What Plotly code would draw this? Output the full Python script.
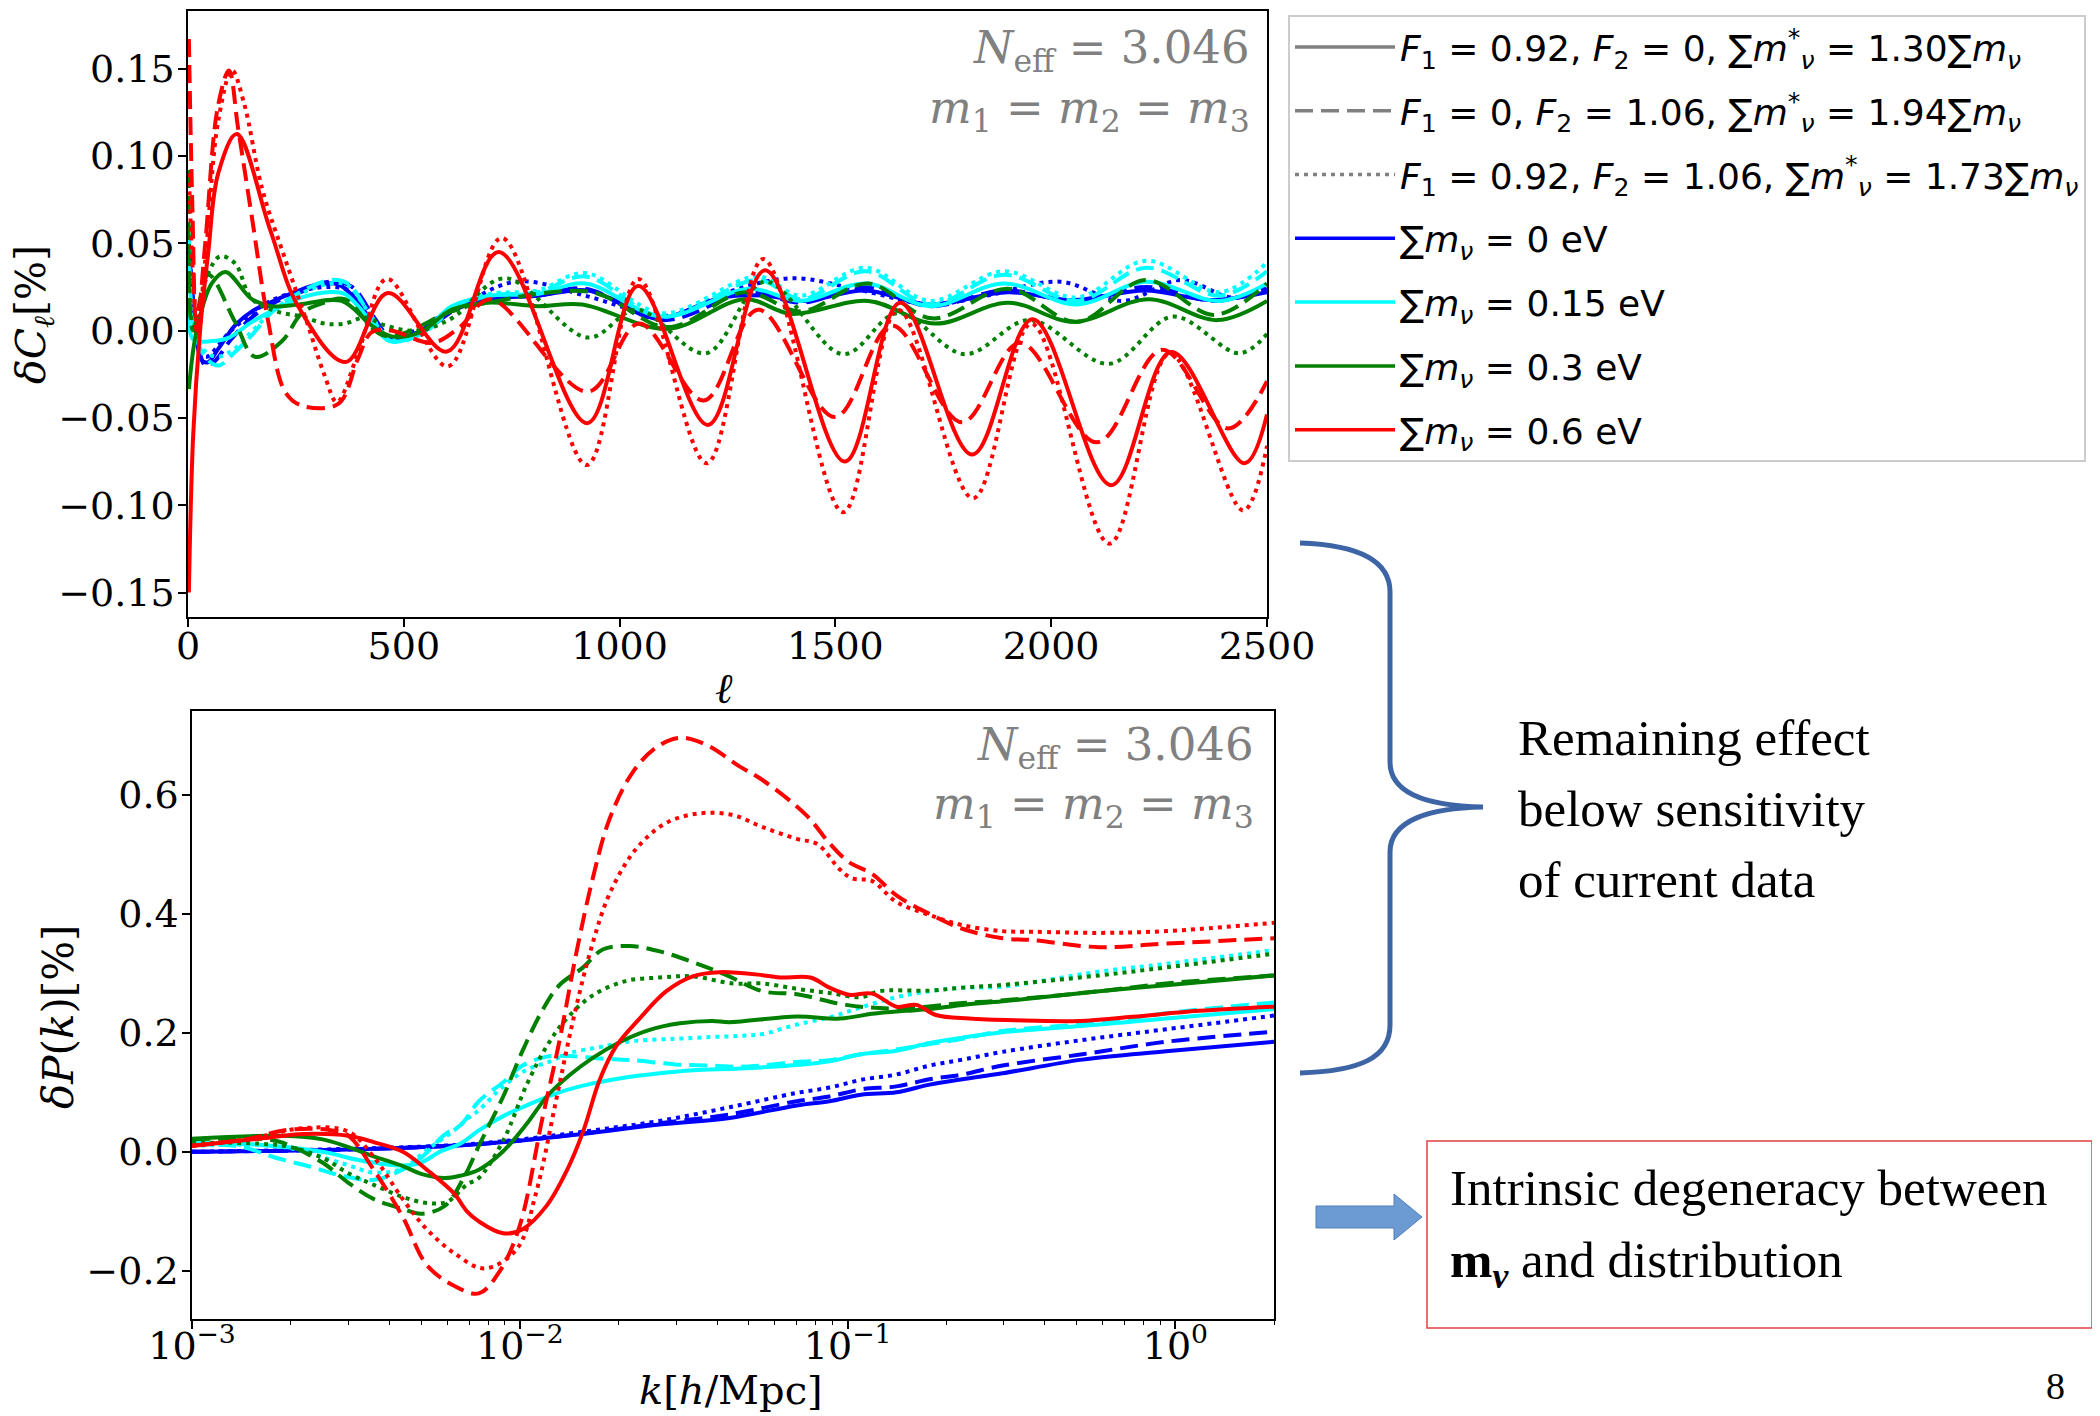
import plotly.graph_objects as go

# ---------------- top panel: delta C_ell [%] vs ell ----------------
ell_b_s = [2, 15, 32, 47, 70, 109, 148, 194, 247, 302, 348, 387, 441, 472, 533, 611, 695, 811, 927, 1040, 1090, 1238, 1337, 1430, 1569, 1715, 1900, 2050, 2218, 2370, 2500]
dcl_b_s = [0.048, 0.01, -0.017, -0.018, -0.0105, 0.003, 0.011, 0.0165, 0.022, 0.0265, 0.0265, 0.0185, 0.0006, -0.004, -0.001, 0.012, 0.018, 0.02, 0.023, 0.011, 0.0066, 0.019, 0.02, 0.017, 0.023, 0.015, 0.022, 0.0175, 0.023, 0.0175, 0.022]
ell_b_d = [2, 15, 40, 60, 100, 150, 200, 260, 330, 380, 430, 470, 540, 620, 700, 810, 920, 1100, 1300, 1420, 1570, 1720, 1890, 2060, 2220, 2380, 2500]
dcl_b_d = [0.05, 0.01, -0.02, -0.018, -0.005, 0.008, 0.016, 0.022, 0.028, 0.025, 0.008, -0.004, -0.001, 0.012, 0.019, 0.02, 0.024, 0.006, 0.022, 0.016, 0.025, 0.014, 0.023, 0.017, 0.025, 0.017, 0.024]
ell_b_o = [2, 15, 40, 100, 200, 330, 380, 430, 470, 600, 760, 920, 1060, 1130, 1250, 1400, 1560, 1720, 1850, 2020, 2165, 2300, 2420, 2500]
dcl_b_o = [0.045, 0.01, -0.015, 0.0, 0.018, 0.025, 0.022, 0.006, -0.004, 0.01, 0.028, 0.02, 0.01, 0.009, 0.022, 0.03, 0.023, 0.015, 0.02, 0.028, 0.017, 0.029, 0.019, 0.025]

ell_c_s = [2, 12, 55, 95, 148, 209, 264, 325, 363, 425, 467, 537, 611, 700, 810, 920, 1100, 1300, 1420, 1570, 1720, 1890, 2060, 2220, 2390, 2500]
dcl_c_s = [0.016, -0.005, -0.006, -0.004, 0.005, 0.013, 0.019, 0.022, 0.021, 0.005, -0.006, -0.002, 0.014, 0.02, 0.021, 0.027, 0.008, 0.024, 0.017, 0.027, 0.014, 0.027, 0.015, 0.028, 0.017, 0.027]
ell_c_d = [2, 15, 40, 70, 110, 150, 200, 260, 330, 370, 420, 470, 540, 620, 700, 810, 920, 1100, 1320, 1420, 1570, 1720, 1890, 2060, 2220, 2390, 2500]
dcl_c_d = [0.055, 0.0, -0.015, -0.02, -0.012, -0.002, 0.012, 0.022, 0.029, 0.027, 0.01, -0.006, -0.002, 0.013, 0.02, 0.022, 0.031, 0.008, 0.029, 0.018, 0.034, 0.015, 0.032, 0.017, 0.036, 0.02, 0.034]
ell_c_o = [2, 15, 40, 70, 110, 150, 200, 260, 330, 370, 420, 470, 540, 620, 700, 810, 920, 1100, 1320, 1420, 1570, 1720, 1890, 2060, 2220, 2390, 2500]
dcl_c_o = [0.06, 0.0, -0.012, -0.015, -0.01, 0.0, 0.012, 0.021, 0.027, 0.026, 0.01, -0.005, -0.001, 0.014, 0.021, 0.023, 0.033, 0.01, 0.031, 0.02, 0.036, 0.017, 0.034, 0.019, 0.04, 0.022, 0.039]

ell_g_s = [2, 20, 55, 87, 148, 194, 258, 356, 425, 472, 537, 611, 695, 811, 913, 1112, 1290, 1398, 1576, 1731, 1900, 2052, 2226, 2385, 2500]
dcl_g_s = [-0.0335, 0.0, 0.027, 0.0336, 0.018, 0.014, 0.015, 0.017, 0.003, -0.0033, -0.001, 0.012, 0.016, 0.014, 0.015, 0.001, 0.018, 0.0096, 0.017, 0.004, 0.016, 0.005, 0.018, 0.006, 0.017]
ell_g_d = [2, 12, 47, 109, 155, 218, 264, 316, 363, 456, 611, 695, 936, 1112, 1290, 1420, 1576, 1724, 1900, 2060, 2218, 2378, 2500]
dcl_g_d = [0.092, 0.0, 0.032, 0.005, -0.015, -0.006, 0.01, 0.016, 0.018, -0.003, 0.011, 0.016, 0.022, 0.002, 0.022, 0.011, 0.027, 0.007, 0.024, 0.005, 0.029, 0.009, 0.027]
ell_g_o = [2, 12, 47, 74, 109, 148, 209, 264, 317, 363, 410, 456, 533, 611, 734, 927, 1040, 1200, 1337, 1518, 1645, 1800, 1950, 2134, 2282, 2436, 2500]
dcl_g_o = [0.06, 0.003, 0.033, 0.0425, 0.0385, 0.018, 0.0107, 0.008, 0.004, 0.004, 0.0075, 0.003, 0.0, 0.007, 0.03, -0.004, 0.012, -0.013, 0.028, -0.0135, 0.01, -0.0135, 0.006, -0.019, 0.008, -0.013, -0.002]

ell_r_s = [2, 12, 28, 47, 70, 113, 190, 255, 365, 463, 600, 720, 925, 1043, 1205, 1337, 1522, 1650, 1817, 1957, 2139, 2278, 2448, 2500]
dcl_r_s = [-0.15, -0.06, 0.0, 0.045, 0.09, 0.1125, 0.058, 0.014, -0.018, 0.0215, -0.012, 0.045, -0.053, 0.0255, -0.054, 0.0345, -0.075, 0.016, -0.071, 0.0065, -0.0885, -0.0123, -0.076, -0.048]
ell_r_d = [2, 10, 20, 40, 69, 95, 116, 148, 186, 225, 264, 348, 394, 425, 470, 566, 630, 700, 927, 1045, 1195, 1321, 1499, 1631, 1793, 1928, 2106, 2257, 2410, 2500]
dcl_r_d = [0.167, 0.072, 0.0, 0.05, 0.128, 0.149, 0.116, 0.065, 0.005, -0.035, -0.043, -0.042, -0.016, -0.001, 0.0, -0.007, 0.002, 0.018, -0.035, 0.004, -0.04, 0.012, -0.0495, 0.003, -0.0525, -0.007, -0.064, -0.011, -0.056, -0.029]
ell_r_o = [2, 12, 22, 40, 70, 102, 130, 172, 225, 278, 317, 345, 394, 461, 602, 727, 924, 1043, 1202, 1333, 1518, 1645, 1819, 1954, 2135, 2275, 2445, 2500]
dcl_r_o = [0.09, 0.03, 0.0, 0.04, 0.12, 0.149, 0.13, 0.081, 0.041, 0.003, -0.026, -0.041, -0.013, 0.0296, -0.0205, 0.053, -0.077, 0.0296, -0.076, 0.041, -0.104, 0.012, -0.096, 0.004, -0.122, -0.013, -0.103, -0.066]

# ---------------- bottom panel: delta P(k) [%] vs k ----------------
k_b = [0.001, 0.003, 0.0066, 0.0105, 0.0167, 0.0267, 0.0437, 0.07, 0.088, 0.11, 0.141, 0.178, 0.224, 0.297, 0.52, 0.937, 2.0]
dpk_b_s = [0.0, 0.004, 0.011, 0.02, 0.032, 0.046, 0.057, 0.078, 0.085, 0.096, 0.1, 0.113, 0.122, 0.132, 0.155, 0.169, 0.185]
dpk_b_d = [0.0, 0.004, 0.011, 0.02, 0.033, 0.048, 0.063, 0.085, 0.093, 0.105, 0.11, 0.122, 0.13, 0.145, 0.164, 0.185, 0.202]
dpk_b_o = [0.0, 0.005, 0.012, 0.022, 0.036, 0.052, 0.075, 0.099, 0.108, 0.121, 0.13, 0.145, 0.155, 0.168, 0.188, 0.206, 0.229]

k_c_s = [0.001, 0.0016, 0.0025, 0.0033, 0.0044, 0.005, 0.0057, 0.0066, 0.0075, 0.0089, 0.0105, 0.0132, 0.0167, 0.021, 0.0267, 0.0337, 0.047, 0.07, 0.088, 0.11, 0.141, 0.178, 0.224, 0.297, 0.586, 0.937, 2.0]
dpk_c_s = [0.015, 0.012, 0.0, -0.015, -0.023, -0.018, 0.0, 0.014, 0.036, 0.06, 0.078, 0.1, 0.115, 0.125, 0.132, 0.137, 0.14, 0.146, 0.152, 0.164, 0.17, 0.183, 0.192, 0.201, 0.214, 0.224, 0.24]
k_c_d = [0.001, 0.0014, 0.0018, 0.0023, 0.0029, 0.0036, 0.0042, 0.005, 0.0059, 0.0066, 0.0075, 0.0089, 0.0102, 0.0121, 0.0142, 0.0175, 0.0221, 0.0298, 0.0386, 0.047, 0.055, 0.07, 0.088, 0.11, 0.141, 0.178, 0.224, 0.297, 0.586, 0.937, 2.0]
dpk_c_d = [0.012, 0.009, -0.01, -0.025, -0.041, -0.047, -0.035, -0.01, 0.029, 0.045, 0.085, 0.117, 0.145, 0.16, 0.161, 0.157, 0.154, 0.147, 0.145, 0.143, 0.145, 0.151, 0.154, 0.164, 0.172, 0.181, 0.19, 0.203, 0.217, 0.233, 0.251]
k_c_o = [0.001, 0.0019, 0.0029, 0.0036, 0.0044, 0.0052, 0.0063, 0.0069, 0.0075, 0.0089, 0.0105, 0.0124, 0.0142, 0.0175, 0.0221, 0.0298, 0.0386, 0.047, 0.055, 0.07, 0.088, 0.11, 0.141, 0.178, 0.224, 0.29, 0.586, 0.937, 2.0]
dpk_c_o = [0.01, 0.008, -0.02, -0.035, -0.028, 0.003, 0.036, 0.055, 0.07, 0.11, 0.138, 0.152, 0.166, 0.176, 0.186, 0.19, 0.193, 0.195, 0.198, 0.214, 0.226, 0.243, 0.26, 0.27, 0.276, 0.277, 0.303, 0.316, 0.339]

k_g_s = [0.001, 0.0019, 0.0025, 0.003, 0.0036, 0.0044, 0.005, 0.0059, 0.0066, 0.0075, 0.0089, 0.0105, 0.0121, 0.0142, 0.0167, 0.0203, 0.0249, 0.0308, 0.0386, 0.0437, 0.07, 0.095, 0.119, 0.15, 0.178, 0.224, 0.297, 0.586, 0.937, 2.0]
dpk_g_s = [0.022, 0.027, 0.021, 0.008, -0.008, -0.024, -0.037, -0.044, -0.04, -0.03, 0.001, 0.047, 0.093, 0.129, 0.158, 0.185, 0.205, 0.216, 0.22, 0.218, 0.2275, 0.224, 0.232, 0.237, 0.24, 0.247, 0.253, 0.27, 0.28, 0.2965]
k_g_d = [0.001, 0.0017, 0.0019, 0.0025, 0.003, 0.0036, 0.0044, 0.005, 0.0059, 0.0068, 0.0075, 0.0089, 0.0102, 0.0117, 0.0132, 0.0156, 0.0179, 0.0216, 0.0267, 0.0337, 0.0427, 0.055, 0.07, 0.099, 0.141, 0.224, 0.29, 0.586, 0.937, 2.0]
dpk_g_d = [0.021, 0.021, 0.015, -0.018, -0.052, -0.08, -0.096, -0.104, -0.091, -0.04, 0.01, 0.093, 0.17, 0.237, 0.28, 0.31, 0.34, 0.346, 0.337, 0.319, 0.297, 0.27, 0.265, 0.247, 0.241, 0.25, 0.254, 0.27, 0.283, 0.2965]
k_g_o = [0.001, 0.0019, 0.0025, 0.003, 0.0036, 0.0044, 0.0052, 0.006, 0.0069, 0.0075, 0.0089, 0.0105, 0.0121, 0.0139, 0.0167, 0.021, 0.0267, 0.0337, 0.0447, 0.055, 0.07, 0.088, 0.11, 0.125, 0.178, 0.224, 0.29, 0.586, 0.937, 2.0]
dpk_g_o = [0.015, 0.01, -0.01, -0.036, -0.056, -0.076, -0.086, -0.084, -0.055, -0.044, 0.019, 0.113, 0.178, 0.224, 0.263, 0.287, 0.293, 0.295, 0.283, 0.283, 0.274, 0.267, 0.26, 0.27, 0.271, 0.276, 0.28, 0.2965, 0.31, 0.333]

k_r_s = [0.001, 0.0016, 0.0022, 0.003, 0.0036, 0.0044, 0.0052, 0.0063, 0.0069, 0.0075, 0.0089, 0.0102, 0.0121, 0.0139, 0.0156, 0.0175, 0.0197, 0.0232, 0.028, 0.0337, 0.0407, 0.055, 0.0621, 0.077, 0.088, 0.101, 0.119, 0.141, 0.162, 0.186, 0.235, 0.326, 0.51, 0.74, 1.18, 2.0]
dpk_r_s = [0.01, 0.022, 0.03, 0.027, 0.016, 0.0, -0.03, -0.07, -0.1, -0.117, -0.137, -0.13, -0.09, -0.032, 0.034, 0.12, 0.178, 0.224, 0.27, 0.295, 0.302, 0.297, 0.293, 0.293, 0.276, 0.264, 0.266, 0.244, 0.247, 0.23, 0.224, 0.221, 0.22, 0.227, 0.237, 0.244]
k_r_d = [0.001, 0.0015, 0.0019, 0.0026, 0.003, 0.0036, 0.0044, 0.0052, 0.0063, 0.0075, 0.0087, 0.01, 0.0117, 0.0132, 0.0149, 0.0167, 0.0188, 0.0221, 0.0261, 0.0308, 0.0371, 0.0468, 0.055, 0.0748, 0.088, 0.101, 0.119, 0.141, 0.178, 0.224, 0.297, 0.366, 0.586, 0.937, 2.0]
dpk_r_d = [0.01, 0.022, 0.036, 0.037, 0.027, -0.032, -0.11, -0.19, -0.225, -0.238, -0.2, -0.124, 0.054, 0.185, 0.336, 0.46, 0.56, 0.638, 0.68, 0.696, 0.684, 0.648, 0.625, 0.566, 0.519, 0.487, 0.467, 0.431, 0.4, 0.375, 0.359, 0.356, 0.344, 0.35, 0.359]
k_r_o = [0.001, 0.0015, 0.0022, 0.003, 0.0036, 0.0044, 0.0052, 0.0063, 0.0078, 0.0098, 0.0112, 0.0129, 0.0145, 0.0164, 0.0188, 0.0227, 0.028, 0.0354, 0.0447, 0.055, 0.07, 0.081, 0.0946, 0.103, 0.119, 0.141, 0.178, 0.224, 0.297, 0.366, 0.586, 0.937, 2.0]
dpk_r_o = [0.01, 0.022, 0.04, 0.034, -0.01, -0.08, -0.13, -0.17, -0.196, -0.163, -0.07, 0.086, 0.218, 0.336, 0.434, 0.51, 0.553, 0.569, 0.566, 0.546, 0.526, 0.517, 0.475, 0.46, 0.455, 0.42, 0.398, 0.381, 0.371, 0.37, 0.368, 0.371, 0.385]

legend_labels = [
    "<i>F</i><sub>1</sub> = 0.92, <i>F</i><sub>2</sub> = 0, ∑<i>m</i><sup>*</sup><sub><i>ν</i></sub> = 1.30∑<i>m</i><sub><i>ν</i></sub>",
    "<i>F</i><sub>1</sub> = 0, <i>F</i><sub>2</sub> = 1.06, ∑<i>m</i><sup>*</sup><sub><i>ν</i></sub> = 1.94∑<i>m</i><sub><i>ν</i></sub>",
    "<i>F</i><sub>1</sub> = 0.92, <i>F</i><sub>2</sub> = 1.06, ∑<i>m</i><sup>*</sup><sub><i>ν</i></sub> = 1.73∑<i>m</i><sub><i>ν</i></sub>",
    "∑<i>m</i><sub><i>ν</i></sub> = 0 eV",
    "∑<i>m</i><sub><i>ν</i></sub> = 0.15 eV",
    "∑<i>m</i><sub><i>ν</i></sub> = 0.3 eV",
    "∑<i>m</i><sub><i>ν</i></sub> = 0.6 eV",
]

COL = {"b": "#0000ff", "c": "#00ffff", "g": "#008000", "r": "#ff0000"}
DASH = {"s": "solid", "d": "18px,8px", "o": "4px,5px"}
LW = 4

fig = go.Figure()

top = [
    ("b", "s", ell_b_s, dcl_b_s), ("b", "d", ell_b_d, dcl_b_d), ("b", "o", ell_b_o, dcl_b_o),
    ("c", "s", ell_c_s, dcl_c_s), ("c", "d", ell_c_d, dcl_c_d), ("c", "o", ell_c_o, dcl_c_o),
    ("g", "s", ell_g_s, dcl_g_s), ("g", "d", ell_g_d, dcl_g_d), ("g", "o", ell_g_o, dcl_g_o),
    ("r", "s", ell_r_s, dcl_r_s), ("r", "d", ell_r_d, dcl_r_d), ("r", "o", ell_r_o, dcl_r_o),
]
for c, s, xs, ys in top:
    fig.add_trace(go.Scatter(x=xs, y=ys, mode="lines", xaxis="x", yaxis="y", showlegend=False,
                             line=dict(color=COL[c], dash=DASH[s], width=LW, shape="spline", smoothing=1.0),
                             hoverinfo="skip"))

bottom = [
    ("b", "s", k_b, dpk_b_s), ("b", "d", k_b, dpk_b_d), ("b", "o", k_b, dpk_b_o),
    ("c", "s", k_c_s, dpk_c_s), ("c", "d", k_c_d, dpk_c_d), ("c", "o", k_c_o, dpk_c_o),
    ("g", "s", k_g_s, dpk_g_s), ("g", "d", k_g_d, dpk_g_d), ("g", "o", k_g_o, dpk_g_o),
    ("r", "s", k_r_s, dpk_r_s), ("r", "d", k_r_d, dpk_r_d), ("r", "o", k_r_o, dpk_r_o),
]
for c, s, xs, ys in bottom:
    fig.add_trace(go.Scatter(x=xs, y=ys, mode="lines", xaxis="x2", yaxis="y2", showlegend=False,
                             line=dict(color=COL[c], dash=DASH[s], width=LW, shape="spline", smoothing=1.0),
                             hoverinfo="skip"))

# legend entries
leg_styles = [("#808080", DASH["s"]), ("#808080", DASH["d"]), ("#808080", DASH["o"]),
              (COL["b"], "solid"), (COL["c"], "solid"), (COL["g"], "solid"), (COL["r"], "solid")]
for i, (lab, (col, dsh)) in enumerate(zip(legend_labels, leg_styles)):
    fig.add_trace(go.Scatter(x=[None], y=[None], mode="lines", name=lab, xaxis="x", yaxis="y",
                             legendgroup=f"g{i}", line=dict(color=col, dash=dsh, width=3.5)))

W, H = 2100, 1416
OFF = 8  # page body margin offset in the browser
def PX(x):
    return (x - OFF) / W
def PY(y):
    return 1 - (y - OFF) / H

tickfont = dict(family="DejaVu Serif", size=38, color="black")
axis_common = dict(showline=True, linecolor="black", linewidth=1.5, mirror=True, ticks="outside",
                   ticklen=8, tickwidth=1.5, tickcolor="black", showgrid=False, zeroline=False,
                   tickfont=tickfont, automargin=False)

minor_vals = [m * 10 ** e for e in (-3, -2, -1, 0) for m in range(2, 10) if m * 10 ** e <= 2.0]

fig.update_layout(
    width=W, height=H, margin=dict(l=0, r=0, t=0, b=0, autoexpand=False),
    paper_bgcolor="white", plot_bgcolor="white",
    xaxis=dict(domain=[PX(188), PX(1267)], anchor="y", range=[0, 2500],
               tickvals=[0, 500, 1000, 1500, 2000, 2500], ticklabelstandoff=-13, **axis_common),
    yaxis=dict(domain=[PY(617), PY(11)], anchor="x", range=[-0.164, 0.183],
               tickvals=[-0.15, -0.10, -0.05, 0.0, 0.05, 0.10, 0.15], tickformat=".2f",
               ticklabelstandoff=-4, **axis_common),
    xaxis2=dict(domain=[PX(192), PX(1274)], anchor="y2", type="log", range=[-3, 0.301],
                tickvals=[0.001, 0.01, 0.1, 1],
                ticktext=["10<sup>−3</sup>", "10<sup>−2</sup>", "10<sup>−1</sup>", "10<sup>0</sup>"],
                minor=dict(ticks="outside", ticklen=4, tickwidth=1.2, tickcolor="black", tickvals=minor_vals),
                ticklabelstandoff=-15, **axis_common),
    yaxis2=dict(domain=[PY(1319), PY(711)], anchor="x2", range=[-0.281, 0.741],
                tickvals=[-0.2, 0.0, 0.2, 0.4, 0.6], tickformat=".1f",
                ticklabelstandoff=-4, **axis_common),
    legend=dict(x=PX(1288), y=PY(15), xanchor="left", yanchor="top",
                font=dict(family="DejaVu Sans", size=36, color="black"),
                bgcolor="white", bordercolor="#cccccc", borderwidth=2,
                tracegroupgap=14, traceorder="grouped", itemwidth=100),
    showlegend=True,
)

serif = "DejaVu Serif"
times = "Liberation Serif"
gray = "#808080"
ann = []
def A(text, x, y, size, family, color="black", xanchor="left", angle=0):
    ann.append(dict(text=text, x=PX(x), y=PY(y), xref="paper", yref="paper", showarrow=False,
                    xanchor=xanchor, yanchor="middle", textangle=angle,
                    font=dict(family=family, size=size, color=color)))

A("<i>N</i><sub>eff</sub> = 3.046", 1252, 50, 45, serif, gray, "right")
A("<i>m</i><sub>1</sub> = <i>m</i><sub>2</sub> = <i>m</i><sub>3</sub>", 1252, 110, 45, serif, gray, "right")
A("<i>N</i><sub>eff</sub> = 3.046", 1256, 747, 45, serif, gray, "right")
A("<i>m</i><sub>1</sub> = <i>m</i><sub>2</sub> = <i>m</i><sub>3</sub>", 1256, 806, 45, serif, gray, "right")

A("<i>ℓ</i>", 724, 688, 42, serif, "black", "center")
A("<i>δC</i><sub><i>ℓ</i></sub>[%]", 34, 315, 41, serif, "black", "center", -90)
A("<i>δP</i>(<i>k</i>)[%]", 58, 1017, 42, serif, "black", "center", -90)
A("<i>k</i>[<i>h</i>/Mpc]", 731, 1390, 40, serif, "black", "center")

A("Remaining effect", 1516, 738, 51, times)
A("below sensitivity", 1516, 809, 51, times)
A("of current data", 1516, 880, 51, times)
A("Intrinsic degeneracy between", 1448, 1188, 51, times)
A("<b>m</b><sub><b><i>v</i></b></sub> and distribution", 1448, 1264, 51, times)
A("8", 2055, 1386, 38, times, "black", "center")

fig.update_layout(annotations=ann)

def P(x, y):
    return f"{PX(x):.5f},{PY(y):.5f}"

brace = (f"M {P(1300,543)} C {P(1360,545)} {P(1390,562)} {P(1390,592)} L {P(1390,762)} "
         f"C {P(1390,795)} {P(1430,806)} {P(1483,807)} C {P(1430,808)} {P(1390,820)} {P(1390,852)} "
         f"L {P(1390,1025)} C {P(1390,1058)} {P(1360,1071)} {P(1300,1073)}")
arrow = (f"M {P(1316,1206)} L {P(1394,1206)} L {P(1394,1194)} L {P(1422,1217)} "
         f"L {P(1394,1240)} L {P(1394,1228)} L {P(1316,1228)} Z")

fig.update_layout(shapes=[
    dict(type="path", path=brace, xref="paper", yref="paper", line=dict(color="#3d65a5", width=5)),
    dict(type="path", path=arrow, xref="paper", yref="paper", fillcolor="#6b9bd2",
         line=dict(color="#4f7fbf", width=1)),
    dict(type="rect", x0=PX(1427), x1=PX(2092), y0=PY(1328), y1=PY(1141), xref="paper", yref="paper",
         line=dict(color="#e04040", width=1.5)),
])

fig.write_html("out.html")
